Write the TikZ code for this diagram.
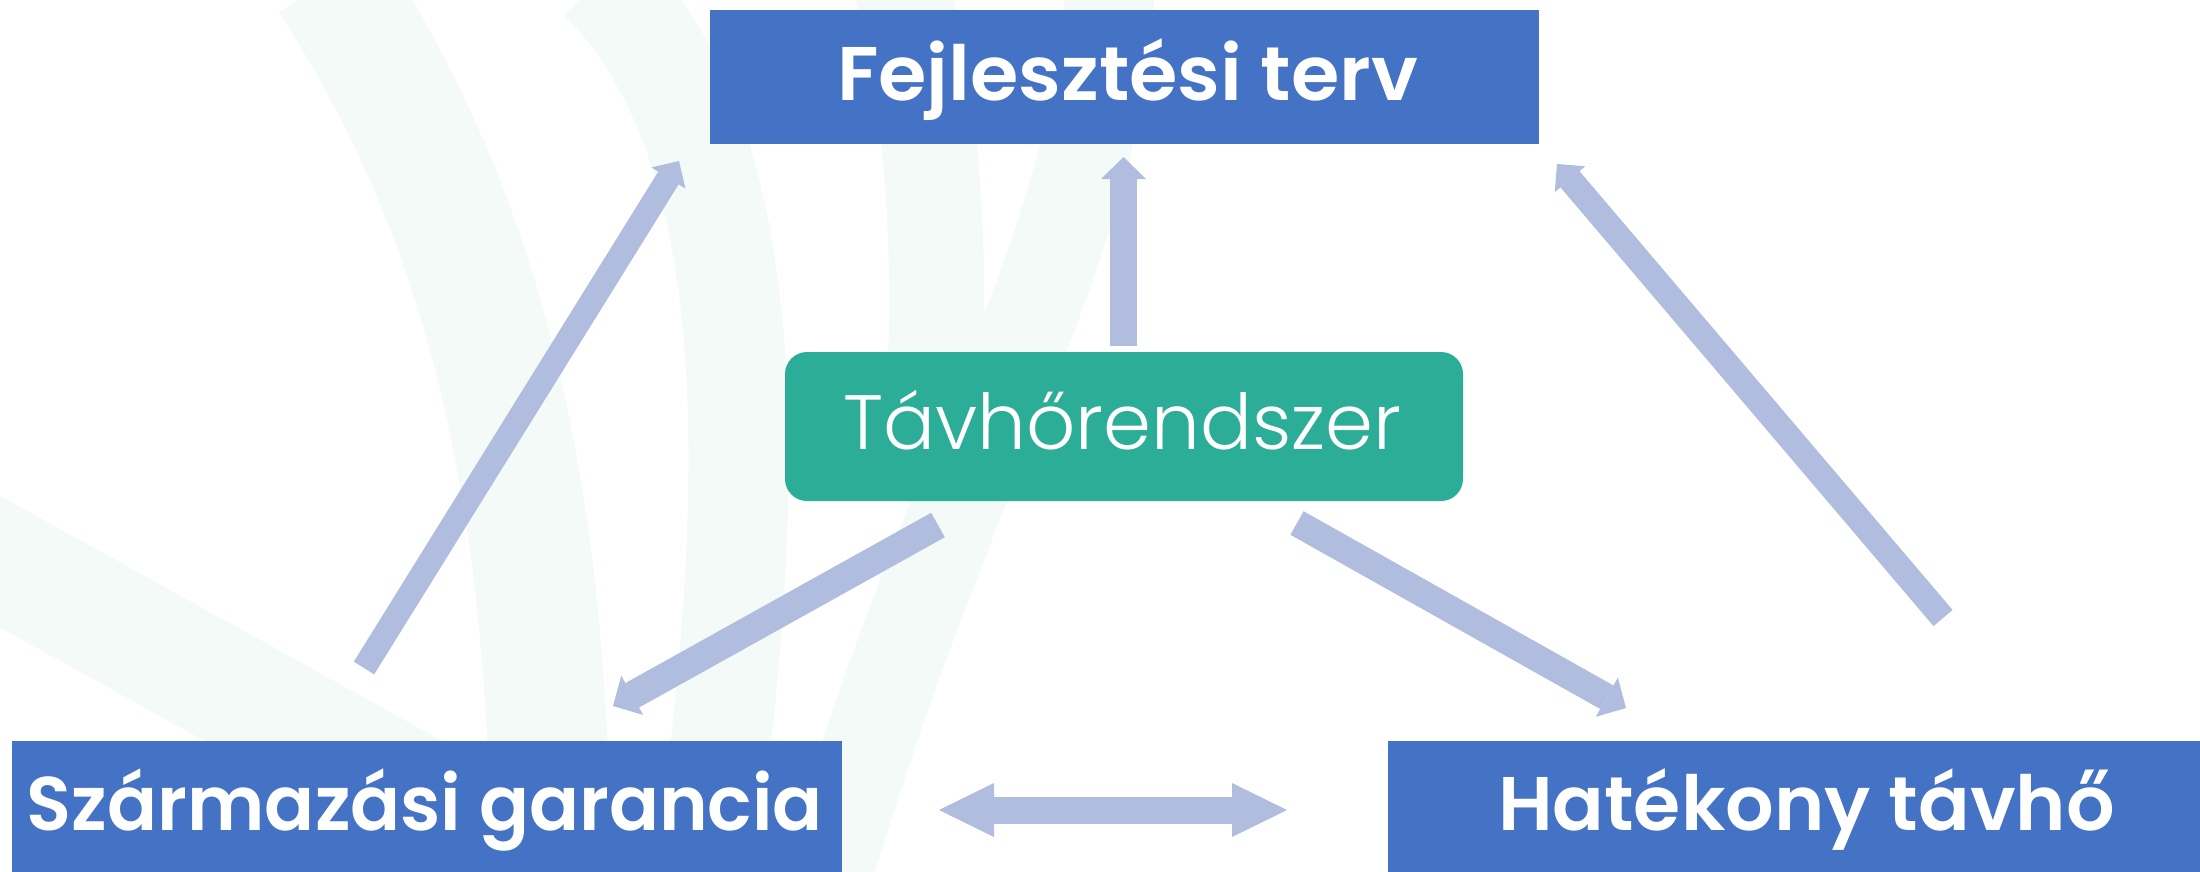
\documentclass[tikz,border=0pt]{standalone}
\usepackage{fontspec}
\usepackage{graphicx}
\usetikzlibrary{arrows.meta,calc}
\newfontfamily\pbold{Poppins SemiBold}
\newfontfamily\plight{Poppins Light}
\definecolor{boxblue}{HTML}{4472C4}
\definecolor{tgreen}{HTML}{2CAD97}
\definecolor{arrowc}{HTML}{B0BDDE}
\definecolor{wmark}{HTML}{F4FAF8}
\newcommand{\fitw}[2]{\resizebox{#1}{\height}{#2}}
\tikzset{
  bluebox/.style={fill=boxblue, draw=none, inner sep=0pt},
  greenbox/.style={fill=tgreen, draw=none, inner sep=0pt, rounded corners=22pt},
  btext/.style={text=white, inner sep=0pt, font=\pbold\fontsize{76}{76}\selectfont},
  ltext/.style={text=white, inner sep=0pt, font=\plight\fontsize{77}{77}\selectfont},
  conn/.style={draw=arrowc, line width=#1},
  wm/.style={draw=wmark, line width=#1},
  tipS/.style={-{Triangle[length=20pt,width=40pt,line width=0pt]}},
  tipM/.style={-{Triangle[length=22pt,width=45pt,line width=0pt]}},
  tipD/.style={{Triangle[length=55pt,width=54pt,line width=0pt]}-{Triangle[length=55pt,width=54pt,line width=0pt]}}
}
\begin{document}
\begin{tikzpicture}[x=1pt,y=-1pt]
\useasboundingbox (0,0) rectangle (2200,871);
\fill[white] (0,0) rectangle (2200,871);
% faint watermark bands
\begin{scope}
\clip (0,0) rectangle (2200,871);
\draw[wm=120] (330,-20) .. controls (470,200) and (551,450) .. (551,900);
\draw[wm=100] (600,-20) .. controls (740,120) and (775,400) .. (700,900);
\draw[wm=95] (900,-20) .. controls (935,120) and (940,250) .. (935,380);
\draw[wm=90] (1110,-20) .. controls (1100,250) and (950,450) .. (820,900);
\draw[wm=115] (-30,545) -- (430,800);
\end{scope}
% boxes
\node[bluebox, minimum width=829pt, minimum height=134pt] (top) at (1124.5,77) {};
\node[greenbox, minimum width=678pt, minimum height=149pt] (tav) at (1124,426.5) {};
\node[bluebox, minimum width=830pt, minimum height=131pt, anchor=north west] (szg) at (12,741) {};
\node[bluebox, minimum width=813pt, minimum height=131pt, anchor=north west] (hat) at (1388,741) {};
% texts
\node[btext, anchor=base] (topt) at (1127.5,100) {\fitw{581pt}{Fejlesztési terv}};
\node[ltext, anchor=base] (tavt) at (1122.5,449) {Távhőrendszer};
\node[btext, anchor=base] (szgt) at (425,830) {\fitw{796pt}{Származási garancia}};
\node[btext, anchor=base] (hatt) at (1806.5,830) {\fitw{617pt}{Hatékony távhő}};
% arrow end points
\coordinate (a1s) at (364,668);  \coordinate (a1e) at (679,161);
\coordinate (a2s) at (1123.5,346); \coordinate (a2e) at (1123.5,157);
\coordinate (a3s) at (1943,618); \coordinate (a3e) at (1557,164);
\coordinate (a4s) at (938,525);  \coordinate (a4e) at (613,706);
\coordinate (a5s) at (1297,523); \coordinate (a5e) at (1626,708);
\coordinate (a6s) at (939,810);  \coordinate (a6e) at (1287,810);
% connectors
\draw[conn=24pt, tipS] (a1s) -- (a1e);
\draw[conn=27pt, tipM] (a2s) -- (a2e);
\draw[conn=25pt, tipS] (a3s) -- (a3e);
\draw[conn=28pt, tipM] (a4s) -- (a4e);
\draw[conn=27pt, tipM] (a5s) -- (a5e);
\draw[conn=27pt, tipD] (a6s) -- (a6e);
\end{tikzpicture}
\end{document}
